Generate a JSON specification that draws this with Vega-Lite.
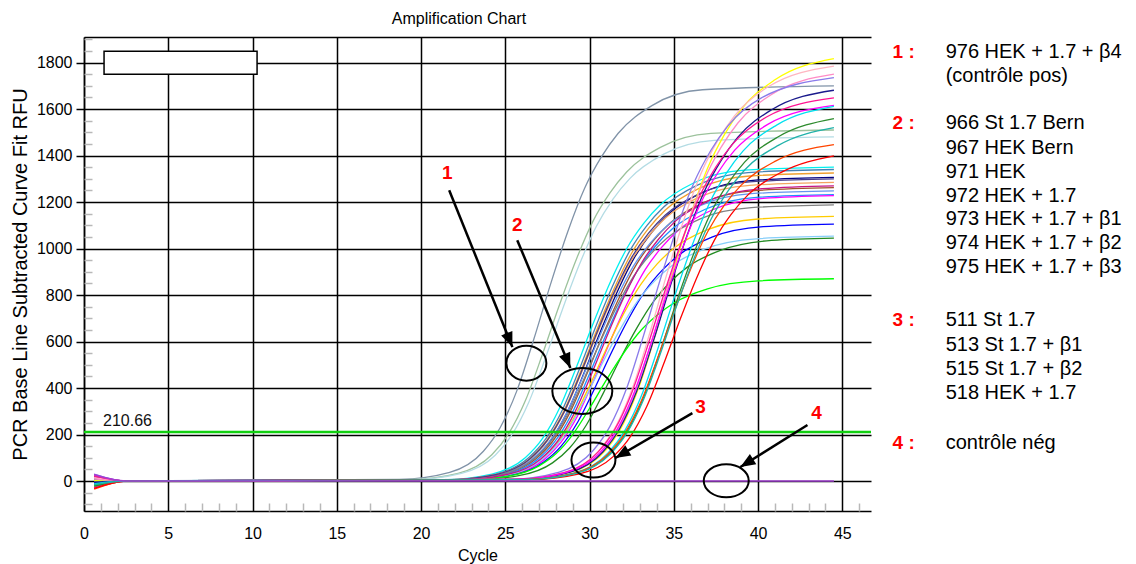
{
  "$schema": "https://vega.github.io/schema/vega-lite/v6.json",
  "width": 787,
  "height": 474,
  "autosize": {"type": "none"},
  "padding": {"left": 84, "top": 37, "right": 265, "bottom": 53},
  "background": "white",
  "config": {"view": {"stroke": null}, "font": "Liberation Sans"},
  "resolve": {"axis": {"x": "independent", "y": "independent"}, "scale": {"shape": "independent"}},
  "datasets": {
    "curves": [
      {"s":"g1a","x":0.6,"y":8},{"s":"g1a","x":2.5,"y":0},{"s":"g1a","x":18.7,"y":7},{"s":"g1a","x":21.7,"y":37},{"s":"g1a","x":23.7,"y":128},{"s":"g1a","x":24.7,"y":230},{"s":"g1a","x":25.7,"y":391},{"s":"g1a","x":26.7,"y":612},{"s":"g1a","x":27.7,"y":850},{"s":"g1a","x":28.7,"y":1071},{"s":"g1a","x":29.7,"y":1258},{"s":"g1a","x":30.7,"y":1394},{"s":"g1a","x":31.7,"y":1496},{"s":"g1a","x":33.7,"y":1615},{"s":"g1a","x":36.7,"y":1683},{"s":"g1a","x":44.5,"y":1700},
      {"s":"g1b","x":0.6,"y":-12},{"s":"g1b","x":2.5,"y":0},{"s":"g1b","x":19.2,"y":6},{"s":"g1b","x":22.2,"y":33},{"s":"g1b","x":24.2,"y":113},{"s":"g1b","x":25.2,"y":204},{"s":"g1b","x":26.2,"y":347},{"s":"g1b","x":27.2,"y":544},{"s":"g1b","x":28.2,"y":755},{"s":"g1b","x":29.2,"y":951},{"s":"g1b","x":30.2,"y":1117},{"s":"g1b","x":31.2,"y":1238},{"s":"g1b","x":32.2,"y":1329},{"s":"g1b","x":34.2,"y":1435},{"s":"g1b","x":37.2,"y":1495},{"s":"g1b","x":44.5,"y":1510},
      {"s":"g1c","x":0.6,"y":15},{"s":"g1c","x":2.5,"y":0},{"s":"g1c","x":19.4,"y":6},{"s":"g1c","x":22.4,"y":33},{"s":"g1c","x":24.4,"y":111},{"s":"g1c","x":25.4,"y":200},{"s":"g1c","x":26.4,"y":340},{"s":"g1c","x":27.4,"y":533},{"s":"g1c","x":28.4,"y":740},{"s":"g1c","x":29.4,"y":932},{"s":"g1c","x":30.4,"y":1095},{"s":"g1c","x":31.4,"y":1214},{"s":"g1c","x":32.4,"y":1302},{"s":"g1c","x":34.4,"y":1406},{"s":"g1c","x":37.4,"y":1465},{"s":"g1c","x":44.5,"y":1480},
      {"s":"b1","x":0.6,"y":-20},{"s":"b1","x":2.5,"y":0},{"s":"b1","x":21.2,"y":5},{"s":"b1","x":24.2,"y":30},{"s":"b1","x":26.2,"y":101},{"s":"b1","x":27.2,"y":182},{"s":"b1","x":28.2,"y":311},{"s":"b1","x":29.2,"y":486},{"s":"b1","x":30.2,"y":675},{"s":"b1","x":31.2,"y":851},{"s":"b1","x":32.2,"y":999},{"s":"b1","x":33.2,"y":1107},{"s":"b1","x":34.2,"y":1188},{"s":"b1","x":36.2,"y":1283},{"s":"b1","x":39.2,"y":1337},{"s":"b1","x":44.5,"y":1350},
      {"s":"b2","x":0.6,"y":10},{"s":"b2","x":2.5,"y":0},{"s":"b2","x":21.4,"y":5},{"s":"b2","x":24.4,"y":29},{"s":"b2","x":26.4,"y":101},{"s":"b2","x":27.4,"y":181},{"s":"b2","x":28.4,"y":308},{"s":"b2","x":29.4,"y":482},{"s":"b2","x":30.4,"y":670},{"s":"b2","x":31.4,"y":844},{"s":"b2","x":32.4,"y":992},{"s":"b2","x":33.4,"y":1099},{"s":"b2","x":34.4,"y":1179},{"s":"b2","x":36.4,"y":1273},{"s":"b2","x":39.4,"y":1327},{"s":"b2","x":44.5,"y":1340},
      {"s":"b3","x":0.6,"y":-5},{"s":"b3","x":2.5,"y":0},{"s":"b3","x":21.5,"y":5},{"s":"b3","x":24.5,"y":29},{"s":"b3","x":26.5,"y":99},{"s":"b3","x":27.5,"y":179},{"s":"b3","x":28.5,"y":305},{"s":"b3","x":29.5,"y":477},{"s":"b3","x":30.5,"y":663},{"s":"b3","x":31.5,"y":835},{"s":"b3","x":32.5,"y":981},{"s":"b3","x":33.5,"y":1087},{"s":"b3","x":34.5,"y":1166},{"s":"b3","x":36.5,"y":1259},{"s":"b3","x":39.5,"y":1312},{"s":"b3","x":44.5,"y":1325},
      {"s":"b4","x":0.6,"y":3},{"s":"b4","x":2.5,"y":0},{"s":"b4","x":21.7,"y":5},{"s":"b4","x":24.7,"y":29},{"s":"b4","x":26.7,"y":98},{"s":"b4","x":27.7,"y":176},{"s":"b4","x":28.7,"y":300},{"s":"b4","x":29.7,"y":470},{"s":"b4","x":30.7,"y":653},{"s":"b4","x":31.7,"y":823},{"s":"b4","x":32.7,"y":966},{"s":"b4","x":33.7,"y":1071},{"s":"b4","x":34.7,"y":1149},{"s":"b4","x":36.7,"y":1241},{"s":"b4","x":39.7,"y":1293},{"s":"b4","x":44.5,"y":1306},
      {"s":"b5","x":0.6,"y":-25},{"s":"b5","x":2.5,"y":0},{"s":"b5","x":21.5,"y":5},{"s":"b5","x":24.5,"y":28},{"s":"b5","x":26.5,"y":96},{"s":"b5","x":27.5,"y":173},{"s":"b5","x":28.5,"y":296},{"s":"b5","x":29.5,"y":463},{"s":"b5","x":30.5,"y":643},{"s":"b5","x":31.5,"y":810},{"s":"b5","x":32.5,"y":951},{"s":"b5","x":33.5,"y":1054},{"s":"b5","x":34.5,"y":1131},{"s":"b5","x":36.5,"y":1221},{"s":"b5","x":39.5,"y":1272},{"s":"b5","x":44.5,"y":1285},
      {"s":"b6","x":0.6,"y":6},{"s":"b6","x":2.5,"y":0},{"s":"b6","x":21.8,"y":5},{"s":"b6","x":24.8,"y":28},{"s":"b6","x":26.8,"y":95},{"s":"b6","x":27.8,"y":170},{"s":"b6","x":28.8,"y":290},{"s":"b6","x":29.8,"y":454},{"s":"b6","x":30.8,"y":631},{"s":"b6","x":31.8,"y":795},{"s":"b6","x":32.8,"y":934},{"s":"b6","x":33.8,"y":1035},{"s":"b6","x":34.8,"y":1111},{"s":"b6","x":36.8,"y":1199},{"s":"b6","x":39.8,"y":1249},{"s":"b6","x":44.5,"y":1262},
      {"s":"b7","x":0.6,"y":-8},{"s":"b7","x":2.5,"y":0},{"s":"b7","x":21.6,"y":5},{"s":"b7","x":24.6,"y":27},{"s":"b7","x":26.6,"y":94},{"s":"b7","x":27.6,"y":168},{"s":"b7","x":28.6,"y":287},{"s":"b7","x":29.6,"y":449},{"s":"b7","x":30.6,"y":624},{"s":"b7","x":31.6,"y":786},{"s":"b7","x":32.6,"y":924},{"s":"b7","x":33.6,"y":1023},{"s":"b7","x":34.6,"y":1098},{"s":"b7","x":36.6,"y":1186},{"s":"b7","x":39.6,"y":1236},{"s":"b7","x":44.5,"y":1248},
      {"s":"b8","x":0.6,"y":12},{"s":"b8","x":2.5,"y":0},{"s":"b8","x":21.9,"y":5},{"s":"b8","x":24.9,"y":27},{"s":"b8","x":26.9,"y":92},{"s":"b8","x":27.9,"y":166},{"s":"b8","x":28.9,"y":283},{"s":"b8","x":29.9,"y":444},{"s":"b8","x":30.9,"y":616},{"s":"b8","x":31.9,"y":776},{"s":"b8","x":32.9,"y":912},{"s":"b8","x":33.9,"y":1010},{"s":"b8","x":34.9,"y":1084},{"s":"b8","x":36.9,"y":1170},{"s":"b8","x":39.9,"y":1220},{"s":"b8","x":44.5,"y":1232},
      {"s":"b9","x":0.6,"y":25},{"s":"b9","x":2.5,"y":0},{"s":"b9","x":22.3,"y":5},{"s":"b9","x":25.3,"y":27},{"s":"b9","x":27.3,"y":92},{"s":"b9","x":28.3,"y":166},{"s":"b9","x":29.3,"y":282},{"s":"b9","x":30.3,"y":442},{"s":"b9","x":31.3,"y":614},{"s":"b9","x":32.3,"y":774},{"s":"b9","x":33.3,"y":909},{"s":"b9","x":34.3,"y":1007},{"s":"b9","x":35.3,"y":1081},{"s":"b9","x":37.3,"y":1167},{"s":"b9","x":40.3,"y":1216},{"s":"b9","x":44.5,"y":1228},
      {"s":"b10","x":0.6,"y":20},{"s":"b10","x":2.5,"y":0},{"s":"b10","x":21.6,"y":5},{"s":"b10","x":24.6,"y":26},{"s":"b10","x":26.6,"y":89},{"s":"b10","x":27.6,"y":160},{"s":"b10","x":28.6,"y":273},{"s":"b10","x":29.6,"y":428},{"s":"b10","x":30.6,"y":594},{"s":"b10","x":31.6,"y":748},{"s":"b10","x":32.6,"y":879},{"s":"b10","x":33.6,"y":974},{"s":"b10","x":34.6,"y":1045},{"s":"b10","x":36.6,"y":1129},{"s":"b10","x":39.6,"y":1176},{"s":"b10","x":44.5,"y":1188},
      {"s":"b11","x":0.6,"y":-15},{"s":"b11","x":2.5,"y":0},{"s":"b11","x":22,"y":5},{"s":"b11","x":25,"y":25},{"s":"b11","x":27,"y":85},{"s":"b11","x":28,"y":154},{"s":"b11","x":29,"y":262},{"s":"b11","x":30,"y":410},{"s":"b11","x":31,"y":569},{"s":"b11","x":32,"y":717},{"s":"b11","x":33,"y":842},{"s":"b11","x":34,"y":933},{"s":"b11","x":35,"y":1001},{"s":"b11","x":37,"y":1081},{"s":"b11","x":40,"y":1127},{"s":"b11","x":44.5,"y":1138},
      {"s":"b12","x":0.6,"y":-10},{"s":"b12","x":2.5,"y":0},{"s":"b12","x":22.3,"y":4},{"s":"b12","x":25.3,"y":24},{"s":"b12","x":27.3,"y":83},{"s":"b12","x":28.3,"y":149},{"s":"b12","x":29.3,"y":254},{"s":"b12","x":30.3,"y":398},{"s":"b12","x":31.3,"y":553},{"s":"b12","x":32.3,"y":696},{"s":"b12","x":33.3,"y":818},{"s":"b12","x":34.3,"y":906},{"s":"b12","x":35.3,"y":972},{"s":"b12","x":37.3,"y":1050},{"s":"b12","x":40.3,"y":1094},{"s":"b12","x":44.5,"y":1105},
      {"s":"b13","x":0.6,"y":4},{"s":"b13","x":2.5,"y":0},{"s":"b13","x":21.9,"y":4},{"s":"b13","x":24.9,"y":23},{"s":"b13","x":26.9,"y":79},{"s":"b13","x":27.9,"y":142},{"s":"b13","x":28.9,"y":242},{"s":"b13","x":29.9,"y":379},{"s":"b13","x":30.9,"y":527},{"s":"b13","x":31.9,"y":663},{"s":"b13","x":32.9,"y":779},{"s":"b13","x":33.9,"y":863},{"s":"b13","x":34.9,"y":927},{"s":"b13","x":36.9,"y":1000},{"s":"b13","x":39.9,"y":1042},{"s":"b13","x":44.5,"y":1053},
      {"s":"b14","x":0.6,"y":-28},{"s":"b14","x":2.5,"y":0},{"s":"b14","x":22.8,"y":4},{"s":"b14","x":25.8,"y":23},{"s":"b14","x":27.8,"y":78},{"s":"b14","x":28.8,"y":141},{"s":"b14","x":29.8,"y":240},{"s":"b14","x":30.8,"y":376},{"s":"b14","x":31.8,"y":523},{"s":"b14","x":32.8,"y":658},{"s":"b14","x":33.8,"y":773},{"s":"b14","x":34.8,"y":857},{"s":"b14","x":35.8,"y":920},{"s":"b14","x":37.8,"y":993},{"s":"b14","x":40.8,"y":1035},{"s":"b14","x":44.5,"y":1045},
      {"s":"b15","x":0.6,"y":-18},{"s":"b15","x":2.5,"y":0},{"s":"b15","x":22,"y":3},{"s":"b15","x":25,"y":19},{"s":"b15","x":27,"y":65},{"s":"b15","x":28,"y":117},{"s":"b15","x":29,"y":200},{"s":"b15","x":30,"y":313},{"s":"b15","x":31,"y":435},{"s":"b15","x":32,"y":548},{"s":"b15","x":33,"y":644},{"s":"b15","x":34,"y":713},{"s":"b15","x":35,"y":766},{"s":"b15","x":37,"y":827},{"s":"b15","x":40,"y":861},{"s":"b15","x":44.5,"y":870},
      {"s":"b16","x":0.6,"y":18},{"s":"b16","x":2.5,"y":0},{"s":"b16","x":22.1,"y":5},{"s":"b16","x":25.1,"y":28},{"s":"b16","x":27.1,"y":95},{"s":"b16","x":28.1,"y":171},{"s":"b16","x":29.1,"y":292},{"s":"b16","x":30.1,"y":457},{"s":"b16","x":31.1,"y":635},{"s":"b16","x":32.1,"y":800},{"s":"b16","x":33.1,"y":940},{"s":"b16","x":34.1,"y":1041},{"s":"b16","x":35.1,"y":1118},{"s":"b16","x":37.1,"y":1207},{"s":"b16","x":40.1,"y":1257},{"s":"b16","x":44.5,"y":1270},
      {"s":"b17","x":0.6,"y":-3},{"s":"b17","x":2.5,"y":0},{"s":"b17","x":21.5,"y":5},{"s":"b17","x":24.5,"y":29},{"s":"b17","x":26.5,"y":98},{"s":"b17","x":27.5,"y":176},{"s":"b17","x":28.5,"y":299},{"s":"b17","x":29.5,"y":468},{"s":"b17","x":30.5,"y":650},{"s":"b17","x":31.5,"y":819},{"s":"b17","x":32.5,"y":962},{"s":"b17","x":33.5,"y":1066},{"s":"b17","x":34.5,"y":1144},{"s":"b17","x":36.5,"y":1235},{"s":"b17","x":39.5,"y":1287},{"s":"b17","x":44.5,"y":1300},
      {"s":"c1","x":0.6,"y":2},{"s":"c1","x":2.5,"y":0},{"s":"c1","x":26,"y":7},{"s":"c1","x":29,"y":40},{"s":"c1","x":31,"y":136},{"s":"c1","x":32,"y":245},{"s":"c1","x":33,"y":418},{"s":"c1","x":34,"y":654},{"s":"c1","x":35,"y":909},{"s":"c1","x":36,"y":1145},{"s":"c1","x":37,"y":1345},{"s":"c1","x":38,"y":1490},{"s":"c1","x":39,"y":1599},{"s":"c1","x":41,"y":1726},{"s":"c1","x":44.5,"y":1817},
      {"s":"c2","x":0.6,"y":14},{"s":"c2","x":2.5,"y":0},{"s":"c2","x":25.6,"y":7},{"s":"c2","x":28.6,"y":39},{"s":"c2","x":30.6,"y":134},{"s":"c2","x":31.6,"y":241},{"s":"c2","x":32.6,"y":411},{"s":"c2","x":33.6,"y":643},{"s":"c2","x":34.6,"y":893},{"s":"c2","x":35.6,"y":1125},{"s":"c2","x":36.6,"y":1321},{"s":"c2","x":37.6,"y":1464},{"s":"c2","x":38.6,"y":1571},{"s":"c2","x":40.6,"y":1696},{"s":"c2","x":44.5,"y":1785},
      {"s":"c3","x":0.6,"y":9},{"s":"c3","x":2.5,"y":0},{"s":"c3","x":25.8,"y":7},{"s":"c3","x":28.8,"y":39},{"s":"c3","x":30.8,"y":131},{"s":"c3","x":31.8,"y":236},{"s":"c3","x":32.8,"y":403},{"s":"c3","x":33.8,"y":630},{"s":"c3","x":34.8,"y":875},{"s":"c3","x":35.8,"y":1103},{"s":"c3","x":36.8,"y":1295},{"s":"c3","x":37.8,"y":1435},{"s":"c3","x":38.8,"y":1540},{"s":"c3","x":40.8,"y":1663},{"s":"c3","x":44.5,"y":1750},
      {"s":"c4","x":0.6,"y":30},{"s":"c4","x":2.5,"y":0},{"s":"c4","x":25.2,"y":7},{"s":"c4","x":28.2,"y":38},{"s":"c4","x":30.2,"y":130},{"s":"c4","x":31.2,"y":234},{"s":"c4","x":32.2,"y":399},{"s":"c4","x":33.2,"y":625},{"s":"c4","x":34.2,"y":868},{"s":"c4","x":35.2,"y":1093},{"s":"c4","x":36.2,"y":1284},{"s":"c4","x":37.2,"y":1423},{"s":"c4","x":38.2,"y":1527},{"s":"c4","x":40.2,"y":1648},{"s":"c4","x":44.5,"y":1735},
      {"s":"c5","x":0.6,"y":-6},{"s":"c5","x":2.5,"y":0},{"s":"c5","x":25.8,"y":7},{"s":"c5","x":28.8,"y":37},{"s":"c5","x":30.8,"y":126},{"s":"c5","x":31.8,"y":227},{"s":"c5","x":32.8,"y":387},{"s":"c5","x":33.8,"y":605},{"s":"c5","x":34.8,"y":841},{"s":"c5","x":35.8,"y":1059},{"s":"c5","x":36.8,"y":1244},{"s":"c5","x":37.8,"y":1378},{"s":"c5","x":38.8,"y":1479},{"s":"c5","x":40.8,"y":1597},{"s":"c5","x":44.5,"y":1681},
      {"s":"c6","x":0.6,"y":22},{"s":"c6","x":2.5,"y":0},{"s":"c6","x":25.5,"y":7},{"s":"c6","x":28.5,"y":36},{"s":"c6","x":30.5,"y":124},{"s":"c6","x":31.5,"y":222},{"s":"c6","x":32.5,"y":379},{"s":"c6","x":33.5,"y":593},{"s":"c6","x":34.5,"y":824},{"s":"c6","x":35.5,"y":1038},{"s":"c6","x":36.5,"y":1220},{"s":"c6","x":37.5,"y":1351},{"s":"c6","x":38.5,"y":1450},{"s":"c6","x":40.5,"y":1566},{"s":"c6","x":44.5,"y":1648},
      {"s":"c7","x":0.6,"y":-30},{"s":"c7","x":2.5,"y":0},{"s":"c7","x":25.6,"y":6},{"s":"c7","x":28.6,"y":36},{"s":"c7","x":30.6,"y":121},{"s":"c7","x":31.6,"y":218},{"s":"c7","x":32.6,"y":372},{"s":"c7","x":33.6,"y":582},{"s":"c7","x":34.6,"y":808},{"s":"c7","x":35.6,"y":1018},{"s":"c7","x":36.6,"y":1196},{"s":"c7","x":37.6,"y":1325},{"s":"c7","x":38.6,"y":1422},{"s":"c7","x":40.6,"y":1535},{"s":"c7","x":44.5,"y":1616},
      {"s":"c8","x":0.6,"y":-12},{"s":"c8","x":2.5,"y":0},{"s":"c8","x":26.1,"y":6},{"s":"c8","x":29.1,"y":35},{"s":"c8","x":31.1,"y":121},{"s":"c8","x":32.1,"y":218},{"s":"c8","x":33.1,"y":371},{"s":"c8","x":34.1,"y":580},{"s":"c8","x":35.1,"y":806},{"s":"c8","x":36.1,"y":1016},{"s":"c8","x":37.1,"y":1193},{"s":"c8","x":38.1,"y":1322},{"s":"c8","x":39.1,"y":1419},{"s":"c8","x":41.1,"y":1531},{"s":"c8","x":44.5,"y":1612},
      {"s":"c9","x":0.6,"y":-22},{"s":"c9","x":2.5,"y":0},{"s":"c9","x":26.2,"y":6},{"s":"c9","x":29.2,"y":34},{"s":"c9","x":31.2,"y":117},{"s":"c9","x":32.2,"y":210},{"s":"c9","x":33.2,"y":359},{"s":"c9","x":34.2,"y":561},{"s":"c9","x":35.2,"y":780},{"s":"c9","x":36.2,"y":982},{"s":"c9","x":37.2,"y":1154},{"s":"c9","x":38.2,"y":1278},{"s":"c9","x":39.2,"y":1372},{"s":"c9","x":41.2,"y":1481},{"s":"c9","x":44.5,"y":1559},
      {"s":"c10","x":0.6,"y":-35},{"s":"c10","x":2.5,"y":0},{"s":"c10","x":26,"y":6},{"s":"c10","x":29,"y":32},{"s":"c10","x":31,"y":109},{"s":"c10","x":32,"y":195},{"s":"c10","x":33,"y":333},{"s":"c10","x":34,"y":521},{"s":"c10","x":35,"y":724},{"s":"c10","x":36,"y":912},{"s":"c10","x":37,"y":1071},{"s":"c10","x":38,"y":1187},{"s":"c10","x":39,"y":1273},{"s":"c10","x":41,"y":1375},{"s":"c10","x":44.5,"y":1447},
      {"s":"c11","x":0.6,"y":-32},{"s":"c11","x":2.5,"y":0},{"s":"c11","x":26.4,"y":6},{"s":"c11","x":29.4,"y":31},{"s":"c11","x":31.4,"y":105},{"s":"c11","x":32.4,"y":189},{"s":"c11","x":33.4,"y":322},{"s":"c11","x":34.4,"y":504},{"s":"c11","x":35.4,"y":700},{"s":"c11","x":36.4,"y":881},{"s":"c11","x":37.4,"y":1035},{"s":"c11","x":38.4,"y":1147},{"s":"c11","x":39.4,"y":1231},{"s":"c11","x":41.4,"y":1329},{"s":"c11","x":44.5,"y":1399},
      {"s":"c12","x":0.6,"y":-16},{"s":"c12","x":2.5,"y":0},{"s":"c12","x":26.2,"y":6},{"s":"c12","x":29.2,"y":33},{"s":"c12","x":31.2,"y":114},{"s":"c12","x":32.2,"y":205},{"s":"c12","x":33.2,"y":350},{"s":"c12","x":34.2,"y":547},{"s":"c12","x":35.2,"y":760},{"s":"c12","x":36.2,"y":958},{"s":"c12","x":37.2,"y":1125},{"s":"c12","x":38.2,"y":1246},{"s":"c12","x":39.2,"y":1338},{"s":"c12","x":41.2,"y":1444},{"s":"c12","x":44.5,"y":1520}
    ],
    "neg": [{"x":0.6,"y":28},{"x":2.5,"y":0},{"x":44.5,"y":0}],
    "thr": [{"y":210.66,"label":"210.66","lx":1.13,"ly":258}],
    "box": [{"x":1.19,"x2":10.27,"y":1750,"y2":1849}],
    "nums": [{"t":"1","x":21.56,"y":1324},{"t":"2","x":25.71,"y":1101},{"t":"3","x":36.58,"y":318},{"t":"4","x":43.47,"y":292}],
    "arrows": [{"id":"a1","x":21.67,"y":1251,"x2":25.42,"y2":576},{"id":"a2","x":25.71,"y":1036,"x2":28.86,"y2":486},{"id":"a3","x":36.1,"y":292,"x2":31.53,"y2":99},{"id":"a4","x":42.93,"y":241,"x2":38.95,"y2":60}],
    "ellipses": [{"id":"e1","x":26.25,"y":507},{"id":"e2","x":29.57,"y":387},{"id":"e3","x":30.23,"y":90},{"id":"e4","x":38.11,"y":1}],
    "legend": [
      {"k":"1 :","t":"976 HEK + 1.7 + β4","y":1846},
      {"k":"","t":"(contrôle pos)","y":1744},
      {"k":"2 :","t":"966 St 1.7 Bern","y":1538},
      {"k":"","t":"967 HEK Bern","y":1433},
      {"k":"","t":"971 HEK","y":1330},
      {"k":"","t":"972 HEK + 1.7","y":1227},
      {"k":"","t":"973 HEK + 1.7 + β1","y":1126},
      {"k":"","t":"974 HEK + 1.7 + β2","y":1025},
      {"k":"","t":"975 HEK + 1.7 + β3","y":921},
      {"k":"3 :","t":"511 St 1.7","y":692},
      {"k":"","t":"513 St 1.7 + β1","y":585},
      {"k":"","t":"515 St 1.7 + β2","y":482},
      {"k":"","t":"518 HEK + 1.7","y":377},
      {"k":"4 :","t":"contrôle nég","y":162}
    ]
  },
  "layer": [
    {
      "data": {"name": "curves"},
      "mark": {"type": "line", "interpolate": "monotone", "strokeWidth": 1.3, "clip": true},
      "encoding": {
        "x": {"field": "x", "type": "quantitative", "scale": {"domain": [0, 46.7], "nice": false, "zero": false},
          "axis": {"orient": "bottom", "values": [0,5,10,15,20,25,30,35,40,45], "grid": true, "gridColor": "#000", "gridWidth": 1.5, "ticks": false, "domain": true, "domainColor": "#000", "domainWidth": 1.5, "labelFontSize": 16, "labelColor": "#000", "labelPadding": 14, "labelFlush": false, "title": "Cycle", "titleFontSize": 16, "titleFontWeight": "normal", "titleColor": "#000", "titlePadding": 6}},
        "y": {"field": "y", "type": "quantitative", "scale": {"domain": [-129, 1910], "nice": false, "zero": false},
          "axis": {"orient": "left", "values": [0,200,400,600,800,1000,1200,1400,1600,1800], "format": "d", "grid": true, "gridColor": "#000", "gridWidth": 1.5, "ticks": true, "tickSize": 8, "tickColor": "#000", "tickWidth": 1.5, "domain": true, "domainColor": "#000", "domainWidth": 1.5, "labelFontSize": 16, "labelColor": "#000", "labelPadding": 4, "title": "PCR Base Line Subtracted Curve Fit RFU", "titleFontSize": 20, "titleFontWeight": "normal", "titleColor": "#000", "titlePadding": 6}},
        "color": {"field": "s", "type": "nominal", "legend": null,
          "scale": {"domain": ["g1a","g1b","g1c","b1","b2","b3","b4","b5","b6","b7","b8","b9","b10","b11","b12","b13","b14","b15","b16","b17","c1","c2","c3","c4","c5","c6","c7","c8","c9","c10","c11","c12"],
            "range": ["#8093A8","#9CC29C","#B4DCE4","#00F0F0","#4682B4","#F0A030","#000080","#F4A460","#A0522D","#6495ED","#1E90FF","#FF00FF","#808080","#FFCC00","#0000FF","#87CEFA","#228B22","#00FF00","#C71585","#483D8B","#FFFF00","#FFB6C1","#FF8CC6","#8A7BEA","#1A1A8C","#FF1493","#FF00FF","#00E0F0","#2E8B2E","#FF4500","#FF0000","#20B2AA"]}}
      }
    },
    {
      "data": {"name": "neg"},
      "mark": {"type": "line", "color": "#A040D0", "strokeWidth": 1.5, "interpolate": "monotone"},
      "encoding": {
        "x": {"field": "x", "type": "quantitative", "axis": null},
        "y": {"field": "y", "type": "quantitative", "axis": null}
      }
    },
    {
      "data": {"name": "thr"},
      "mark": {"type": "rule", "color": "#10D010", "strokeWidth": 2.5},
      "encoding": {
        "y": {"field": "y", "type": "quantitative", "axis": null}
      }
    },
    {
      "data": {"name": "thr"},
      "mark": {"type": "text", "align": "left", "baseline": "middle", "fontSize": 16, "color": "#111"},
      "encoding": {
        "x": {"field": "lx", "type": "quantitative", "axis": null},
        "y": {"field": "ly", "type": "quantitative", "axis": null},
        "text": {"field": "label"}
      }
    },
    {
      "data": {"name": "box"},
      "mark": {"type": "rect", "fill": "#fff", "stroke": "#000", "strokeWidth": 1.5},
      "encoding": {
        "x": {"field": "x", "type": "quantitative", "axis": {"orient": "top", "labels": false, "ticks": false, "grid": false, "domain": true, "domainColor": "#000", "domainWidth": 1.5, "title": "Amplification Chart", "titleX": 374.5, "titleY": -14, "titleAlign": "center", "titleAngle": 0, "titleBaseline": "alphabetic", "titleFontSize": 16, "titleFontWeight": "normal", "titleColor": "#000"}},
        "x2": {"field": "x2"},
        "y": {"field": "y", "type": "quantitative", "axis": null},
        "y2": {"field": "y2"}
      }
    },
    {
      "data": {"name": "arrows"},
      "mark": {"type": "rule", "color": "#000", "strokeWidth": 2.5},
      "encoding": {
        "x": {"field": "x", "type": "quantitative", "axis": {"orient": "bottom", "values": [1,2,3,4,6,7,8,9,11,12,13,14,16,17,18,19,21,22,23,24,26,27,28,29,31,32,33,34,36,37,38,39,41,42,43,44,46], "labels": false, "domain": false, "grid": false, "ticks": true, "tickSize": 8, "offset": -8, "tickColor": "#B8B8B8", "tickWidth": 1.5, "title": null}},
        "x2": {"field": "x2"},
        "y": {"field": "y", "type": "quantitative", "axis": {"orient": "left", "values": [-100,-50,50,100,150,250,300,350,450,500,550,650,700,750,850,900,950,1050,1100,1150,1250,1300,1350,1450,1500,1550,1650,1700,1750,1850,1900], "labels": false, "domain": false, "grid": false, "ticks": true, "tickSize": 8, "offset": -8, "tickColor": "#B8B8B8", "tickWidth": 1.5, "title": null}},
        "y2": {"field": "y2"}
      }
    },
    {
      "data": {"name": "arrows"},
      "mark": {"type": "point", "filled": true, "fill": "#000", "strokeWidth": 0, "size": 4, "opacity": 1},
      "encoding": {
        "x": {"field": "x2", "type": "quantitative", "axis": null},
        "y": {"field": "y2", "type": "quantitative", "axis": null},
        "shape": {"field": "id", "type": "nominal", "legend": null,
          "scale": {"domain": ["a1","a2","a3","a4"], "range": ["M0,0L-11.2,-11.7L0,-16.2Z", "M0,0L-11.3,-11.6L-0.2,-16.2Z", "M0,0L9.9,-12.8L16,-2.4Z", "M0,0L9.5,-13.1L15.9,-2.9Z"]}}
      }
    },
    {
      "data": {"name": "ellipses"},
      "mark": {"type": "point", "filled": false, "stroke": "#000", "strokeWidth": 2, "size": 4, "opacity": 1},
      "encoding": {
        "x": {"field": "x", "type": "quantitative", "axis": null},
        "y": {"field": "y", "type": "quantitative", "axis": null},
        "shape": {"field": "id", "type": "nominal", "legend": null,
          "scale": {"domain": ["e1","e2","e3","e4"], "range": ["M-20,0A20,17.5 0 1,0 20,0A20,17.5 0 1,0 -20,0", "M-30,0A30,23 0 1,0 30,0A30,23 0 1,0 -30,0", "M-22,0A22,17.5 0 1,0 22,0A22,17.5 0 1,0 -22,0", "M-22.5,0A22.5,16.5 0 1,0 22.5,0A22.5,16.5 0 1,0 -22.5,0"]}}
      }
    },
    {
      "data": {"name": "nums"},
      "mark": {"type": "text", "color": "#FF0000", "fontSize": 19, "fontWeight": "bold", "align": "center", "baseline": "middle"},
      "encoding": {
        "x": {"field": "x", "type": "quantitative", "axis": null},
        "y": {"field": "y", "type": "quantitative", "axis": null},
        "text": {"field": "t"}
      }
    },
    {
      "data": {"name": "legend"},
      "transform": [{"filter": "datum.k != ''"}],
      "mark": {"type": "text", "color": "#FF0000", "fontSize": 19, "fontWeight": "bold", "align": "left", "baseline": "middle"},
      "encoding": {
        "x": {"datum": 47.98, "type": "quantitative", "axis": null},
        "y": {"field": "y", "type": "quantitative", "axis": null},
        "text": {"field": "k"}
      }
    },
    {
      "data": {"name": "legend"},
      "mark": {"type": "text", "color": "#000", "fontSize": 20, "align": "left", "baseline": "middle"},
      "encoding": {
        "x": {"datum": 51.13, "type": "quantitative", "axis": null},
        "y": {"field": "y", "type": "quantitative", "axis": null},
        "text": {"field": "t"}
      }
    }
  ]
}
